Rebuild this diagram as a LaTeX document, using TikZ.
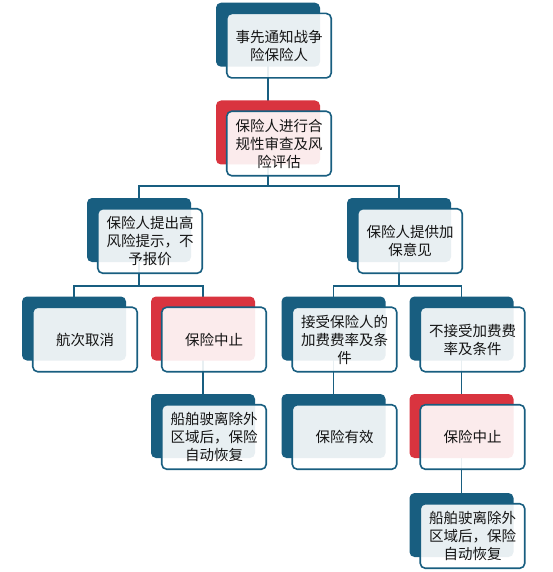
\documentclass[tikz,border=0pt]{standalone}
\usepackage{fontspec}
\newfontfamily\cjk{Noto Sans CJK SC}
\definecolor{dblue}{RGB}{24,94,128}
\definecolor{dred}{RGB}{217,52,63}
\definecolor{txt}{RGB}{20,20,20}
\pgfdeclarelayer{bg}
\pgfsetlayers{bg,main}
\newcommand\diabox[5]{%
  \node[backbox=#4] (#1b) at (#2,#3) {};
  \node[frontbox] (#1) at (#2+11,#3+11) {#5};}
\begin{document}
\begin{tikzpicture}[x=1pt,y=-1pt,
  backbox/.style={rectangle, rounded corners=5pt, minimum width=104pt, minimum height=64pt, inner sep=0pt, fill=#1},
  frontbox/.style={rectangle, rounded corners=5pt, minimum width=104.5pt, minimum height=64.5pt, draw=dblue, line width=1.6pt, fill=white, fill opacity=0.9, text opacity=1, align=center, font=\cjk\fontsize{14.5}{18}\selectfont, text=txt, inner sep=0pt},
  link/.style={draw=dblue, line width=1.6pt}]
\useasboundingbox (0,0) rectangle (553,572);
\diabox{n1}{268}{34.7}{dblue}{事先通知战争\\险保险人}
\diabox{n2}{268}{132.5}{dred}{保险人进行合\\规性审查及风\\险评估}
\diabox{n3}{139}{230}{dblue}{保险人提出高\\风险提示，不\\予报价}
\diabox{n4}{399}{230}{dblue}{保险人提供加\\保意见}
\diabox{n5}{74}{328.5}{dblue}{航次取消}
\diabox{n6}{203}{328.5}{dred}{保险中止}
\diabox{n7}{203}{426}{dblue}{船舶驶离除外\\区域后，保险\\自动恢复}
\diabox{n8}{333.5}{328.5}{dblue}{接受保险人的\\加费费率及条\\件}
\diabox{n9}{461.5}{328.5}{dblue}{不接受加费费\\率及条件}
\diabox{n10}{333.5}{426}{dblue}{保险有效}
\diabox{n11}{461.5}{426}{dred}{保险中止}
\diabox{n12}{461.5}{525}{dblue}{船舶驶离除外\\区域后，保险\\自动恢复}
\coordinate (bus1) at (0,186);
\coordinate (bus2) at (0,286);
\begin{pgfonlayer}{bg}
\draw[link] (n1b.center) -- (n2b.center);
\draw[link] (n2b.center) -- (n2b.center |- bus1);
\draw[link] (n3b.center) |- (n4b.center |- bus1) -- (n4b.center);
\draw[link] (n5b.center) |- (n6b.center |- bus2) -- (n6b.center);
\draw[link] (n3b.center) -- (n3b.center |- bus2);
\draw[link] (n8b.center) |- (n9b.center |- bus2) -- (n9b.center);
\draw[link] (n4b.center) -- (n4b.center |- bus2);
\draw[link] (n6b.center) -- (n7b.center);
\draw[link] (n8b.center) -- (n10b.center);
\draw[link] (n9b.center) -- (n11b.center);
\draw[link] (n11b.center) -- (n12b.center);
\end{pgfonlayer}
\end{tikzpicture}
\end{document}
